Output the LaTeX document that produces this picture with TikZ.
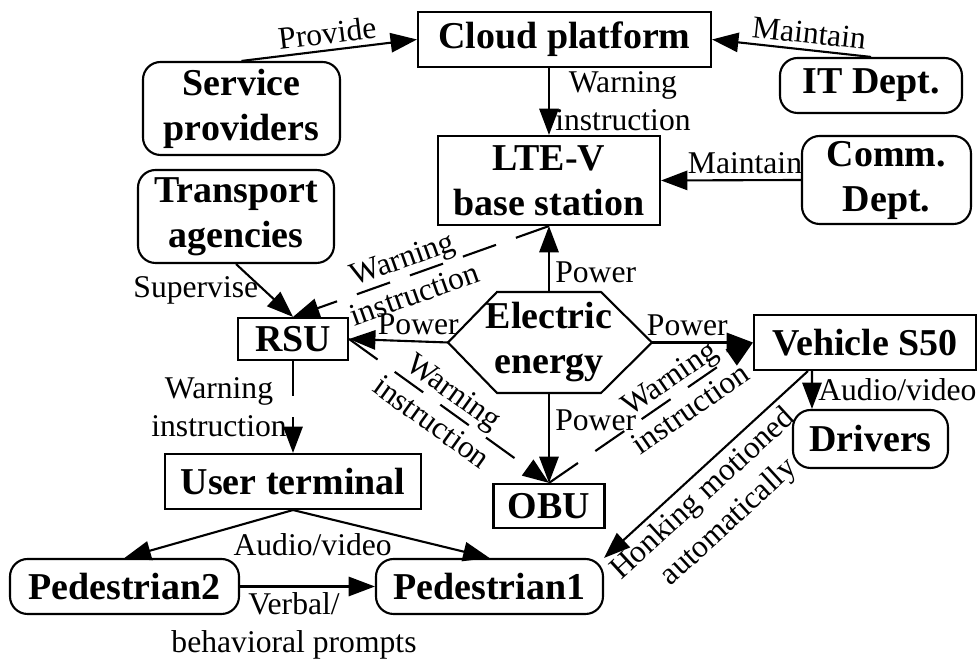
\documentclass[tikz,border=0pt]{standalone}
\usepackage{fontspec}
\setmainfont{Liberation Serif}
\usepackage{tikz}
\usetikzlibrary{positioning, arrows.meta}

\tikzset{
  box/.style={draw, line width=0.6pt, font=\bfseries\fontsize{10.8}{12.8}\selectfont, align=center, inner sep=0pt},
  rbox/.style={box, rounded corners=5pt},
  lbl/.style={font=\fontsize{9}{10.8}\selectfont, align=center, inner sep=1.5pt},
  arr/.style={-{Triangle[length=7.5pt,width=5.5pt]}, line width=0.6pt},
  warnline/.style={dash pattern=on 10pt off 6pt}
}

\begin{document}
\begin{tikzpicture}
    \useasboundingbox (0,0) rectangle (9.80,-6.59);

    % top row
    \node[box, minimum width=2.93cm, minimum height=0.55cm] (cloud) at (5.645,-0.395) {Cloud platform};
    \node[rbox, minimum width=1.97cm, minimum height=0.93cm] (serv) at (2.415,-1.085) {Service\\providers};
    \node[rbox, minimum width=1.82cm, minimum height=0.55cm] (it) at (8.71,-0.855) {IT Dept.};

    % base station row
    \node[box, minimum width=2.22cm, minimum height=0.89cm] (lte) at (5.49,-1.805) {LTE-V\\base station};
    \node[rbox, minimum width=1.69cm, minimum height=0.88cm] (comm) at (8.865,-1.80) {Comm.\\Dept.};
    \node[rbox, minimum width=1.96cm, minimum height=0.93cm] (trans) at (2.36,-2.165) {Transport\\agencies};

    % electric energy hexagon
    \node[box, draw=none] (elec) at (5.49,-3.425) {Electric\\energy};
    \coordinate (hexW) at (4.48,-3.425);
    \coordinate (hexE) at (6.52,-3.425);
    \coordinate (hexN) at (5.49,-2.92);
    \coordinate (hexS) at (5.49,-3.93);
    \draw[line width=0.6pt] (hexW) -- (4.97,-2.92) -- (6.01,-2.92) -- (hexE)
        -- (6.01,-3.93) -- (4.97,-3.93) -- cycle;

    % middle row
    \node[box, minimum width=1.10cm, minimum height=0.42cm] (rsu) at (2.93,-3.39) {RSU};
    \node[box, minimum width=2.22cm, minimum height=0.55cm] (veh) at (8.65,-3.425) {Vehicle S50};
    \node[rbox, minimum width=1.55cm, minimum height=0.58cm] (drv) at (8.705,-4.39) {Drivers};
    \node[box, minimum width=1.11cm, minimum height=0.44cm] (obu) at (5.49,-5.06) {OBU};
    \node[box, minimum width=2.56cm, minimum height=0.55cm] (user) at (2.93,-4.815) {User terminal};

    % pedestrians
    \node[rbox, minimum width=2.29cm, minimum height=0.55cm] (ped2) at (1.245,-5.865) {Pedestrian2};
    \node[rbox, minimum width=2.27cm, minimum height=0.55cm] (ped1) at (4.895,-5.865) {Pedestrian1};

    % connectors
    \draw[arr] (serv.north) -- node[lbl, sloped, above] {Provide} (cloud.west);
    \draw[arr] (it.north) -- node[lbl, sloped, above, pos=0.4] {Maintain} (cloud.east);
    \draw[arr] (cloud.south -| lte.north) -- node[lbl, right] {Warning\\instruction} (lte.north);
    \draw[arr] (comm.west) -- node[lbl, above, pos=0.4] {Maintain} (lte.east);

    \draw[arr] (hexN) -- node[lbl, right, pos=0.3] {Power} (lte.south);
    \draw[arr] (hexW) -- node[lbl, above, pos=0.3] {Power} (rsu.east);
    \draw[arr] (hexE) -- node[lbl, above, pos=0.35] {Power} (veh.west);
    \draw[arr] (hexS) -- node[lbl, right, pos=0.3] {Power} (obu.north);

    \draw[arr] (trans.south) -- node[lbl, left] {Supervise} (rsu.north);
    \draw[arr, warnline] (lte.south) -- node[lbl, sloped, pos=0.55] {Warning\\instruction} (rsu.north);
    \draw[arr, warnline] (rsu.east) -- node[lbl, sloped, pos=0.47] {Warning\\instruction} (obu.north);
    \draw[arr, warnline] (obu.north) -- node[lbl, sloped, pos=0.64] {Warning\\instruction} (veh.west);

    \draw[arr] ([xshift=-5.3mm]veh.south) -- node[lbl, right] {Audio/video} ([xshift=-5.85mm]drv.north);
    \draw[arr] ([xshift=-5.7mm]veh.south) -- node[lbl, sloped, below, pos=0.58] {Honking motioned\\automatically} (ped1.north east);

    \draw[arr, warnline] (rsu.south) -- node[lbl, left] {Warning\\instruction} (user.north);
    \draw[arr] (user.south) -- (ped2.north);
    \draw[arr] (user.south) -- node[lbl, below=3.5pt, pos=0.1] {Audio/video} (ped1.north);
    \draw[arr] (ped2.east) -- node[lbl, below, pos=0.4] {Verbal/\\behavioral prompts} (ped1.west);

\end{tikzpicture}
\end{document}
